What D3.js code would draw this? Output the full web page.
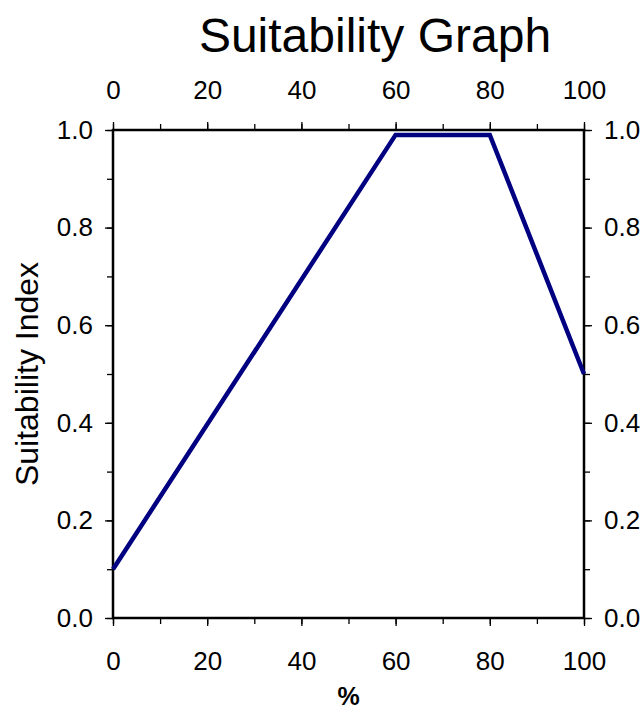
<!DOCTYPE html>
<html>
<head>
<meta charset="utf-8">
<title>Suitability Graph</title>
<script src="https://cdn.jsdelivr.net/npm/d3@7"></script>
<style>
  body { margin: 0; background: #fff; }
  svg text { font-family: "Liberation Sans", Arial, sans-serif; fill: #000; }
</style>
</head>
<body>
<script>
  // curve vertices
  var pctValues = [0, 60, 80, 100];
  var suitValues = [0.1, 0.99, 0.99, 0.5];
  var xTickLabels = [0, 20, 40, 60, 80, 100];
  var yTickLabels = [0.0, 0.2, 0.4, 0.6, 0.8, 1.0];

  var w = 644, h = 713;
  var mLeft = 113, mRight = 584, mTop = 130, mBottom = 618;

  var svg = d3.select("body").append("svg").attr("width", w).attr("height", h);

  var x = d3.scaleLinear().domain([0, 100]).range([mLeft, mRight]);
  var y = d3.scaleLinear().domain([0, 1]).range([mBottom, mTop]);

  var minorX = d3.range(0, 101, 10);
  var minorY = d3.range(0, 1.001, 0.1);

  function styleAxis(g) {
    g.select(".domain").remove();
    g.selectAll(".tick line").attr("stroke", "#000").attr("stroke-width", 1.3);
    g.selectAll(".tick text").attr("font-size", 26).attr("fill", "#000")
      .attr("font-family", "'Liberation Sans', Arial, sans-serif");
  }

  // minor ticks (all four sides)
  svg.append("g").attr("transform", "translate(0," + mBottom + ")")
    .call(d3.axisBottom(x).tickValues(minorX).tickSize(6).tickFormat(""))
    .call(styleAxis);
  svg.append("g").attr("transform", "translate(0," + mTop + ")")
    .call(d3.axisTop(x).tickValues(minorX).tickSize(6).tickFormat(""))
    .call(styleAxis);
  svg.append("g").attr("transform", "translate(" + mLeft + ",0)")
    .call(d3.axisLeft(y).tickValues(minorY).tickSize(6).tickFormat(""))
    .call(styleAxis);
  svg.append("g").attr("transform", "translate(" + mRight + ",0)")
    .call(d3.axisRight(y).tickValues(minorY).tickSize(6).tickFormat(""))
    .call(styleAxis);

  // major ticks with labels
  svg.append("g").attr("transform", "translate(0," + mBottom + ")")
    .call(d3.axisBottom(x).tickValues(xTickLabels).tickSize(8).tickPadding(26).tickFormat(d3.format("d")))
    .call(styleAxis);
  svg.append("g").attr("transform", "translate(0," + mTop + ")")
    .call(d3.axisTop(x).tickValues(xTickLabels).tickSize(8).tickPadding(23).tickFormat(d3.format("d")))
    .call(styleAxis);
  svg.append("g").attr("transform", "translate(" + mLeft + ",0)")
    .call(d3.axisLeft(y).tickValues(yTickLabels).tickSize(8).tickPadding(12).tickFormat(d3.format(".1f")))
    .call(styleAxis);
  svg.append("g").attr("transform", "translate(" + mRight + ",0)")
    .call(d3.axisRight(y).tickValues(yTickLabels).tickSize(8).tickPadding(12).tickFormat(d3.format(".1f")))
    .call(styleAxis);

  // frame
  svg.append("rect")
    .attr("x", mLeft).attr("y", mTop)
    .attr("width", mRight - mLeft).attr("height", mBottom - mTop)
    .attr("fill", "none").attr("stroke", "#000").attr("stroke-width", 2.5);

  // curve
  var line = d3.line()
    .x(function(d, i) { return x(pctValues[i]); })
    .y(function(d) { return y(d); });

  svg.append("path")
    .datum(suitValues)
    .attr("d", line)
    .attr("fill", "none")
    .attr("stroke", "#000080")
    .attr("stroke-width", 4.5)
    .attr("stroke-linejoin", "miter");

  // title and axis labels
  svg.append("text")
    .attr("x", 375).attr("y", 52)
    .attr("text-anchor", "middle")
    .attr("font-size", 48)
    .text("Suitability Graph");

  svg.append("text")
    .attr("x", (mLeft + mRight) / 2).attr("y", 705)
    .attr("text-anchor", "middle")
    .attr("font-size", 25)
    .attr("font-weight", "bold")
    .text("%");

  svg.append("text")
    .attr("transform", "translate(38," + (mTop + mBottom) / 2 + ") rotate(-90)")
    .attr("text-anchor", "middle")
    .attr("font-size", 32)
    .text("Suitability Index");
</script>
</body>
</html>
